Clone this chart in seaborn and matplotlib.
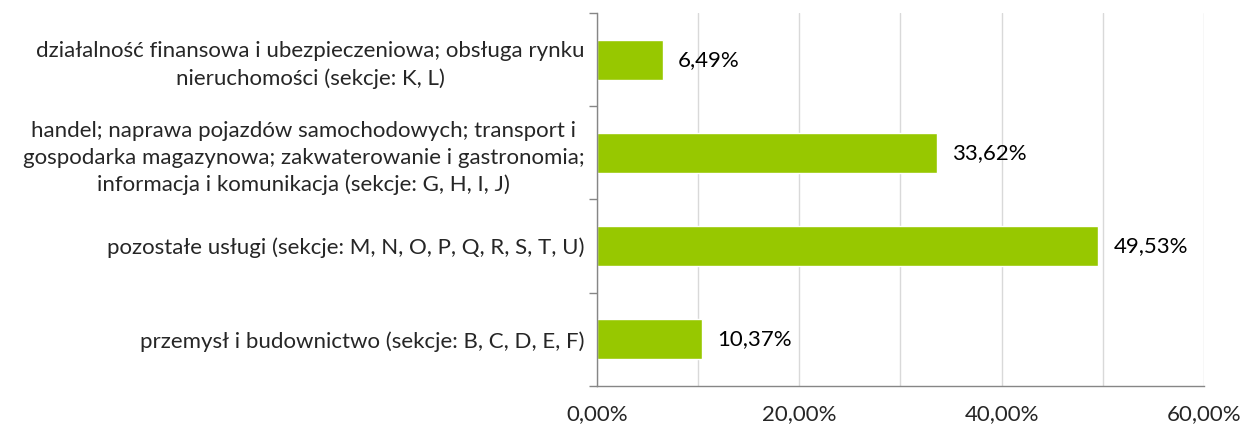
import numpy as np
import pandas as pd
import matplotlib
matplotlib.use('Agg')
import matplotlib.pyplot as plt
import seaborn as sns

# data (top to bottom)
categories = [
    'działalność finansowa i ubezpieczeniowa; obsługa rynku\nnieruchomości (sekcje: K, L)',
    'handel; naprawa pojazdów samochodowych; transport i\ngospodarka magazynowa; zakwaterowanie i gastronomia;\ninformacja i komunikacja (sekcje: G, H, I, J)',
    'pozostałe usługi (sekcje: M, N, O, P, Q, R, S, T, U)',
    'przemysł i budownictwo (sekcje: B, C, D, E, F)',
]
shares = [6.49, 33.62, 49.53, 10.37]
x_ticks = [0, 20, 40, 60]

df = pd.DataFrame({'category': categories, 'share': shares})

sns.set_style('white')
plt.rcParams['font.family'] = ['Lato', 'DejaVu Sans']

fig = plt.figure(figsize=(12.43, 4.26), dpi=100)
ax = fig.add_axes([0.4803, 0.0939, 0.4883, 0.8756])

sns.barplot(data=df, y='category', x='share', orient='h', color='#97C800',
            width=0.43, saturation=1, ax=ax)

# value labels
labels = [f'{v:.2f}%'.replace('.', ',') for v in shares]
ax.bar_label(ax.containers[0], labels=labels, padding=11, fontsize=16, color='black')

# x axis
ax.set_xlim(0, 60)
ax.set_xticks(x_ticks)
ax.set_xticklabels([f'{t:.2f}%'.replace('.', ',') for t in x_ticks], fontsize=16)
ax.set_xticks([10, 30, 50], minor=True)
ax.grid(axis='x', which='both', color='#D9D9D9', linewidth=1)
ax.set_axisbelow(True)
ax.tick_params(axis='x', which='both', length=0, pad=13)

# y axis: labels centered on bands, tick marks at band edges
ax.set_ylim(3.5, -0.5)
ax.set_yticks(np.arange(-0.5, 4, 1), minor=True)
ax.tick_params(axis='y', which='major', length=0, pad=9, labelsize=16)
ax.tick_params(axis='y', which='minor', length=6, color='#868686', width=1, direction='out', left=True)
for lab in ax.get_yticklabels():
    lab.set_multialignment('center')
    lab.set_linespacing(1.4)

ax.set_xlabel('')
ax.set_ylabel('')
for side in ['top', 'right']:
    ax.spines[side].set_visible(False)
for side in ['left', 'bottom']:
    ax.spines[side].set_color('#868686')
    ax.spines[side].set_linewidth(1)

fig.savefig('out.png', dpi=100, facecolor='white')
